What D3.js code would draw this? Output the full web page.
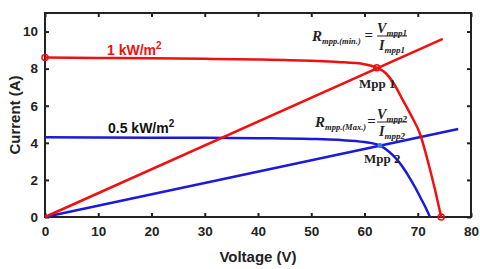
<!DOCTYPE html>
<html>
<head>
<meta charset="utf-8">
<script src="https://cdn.jsdelivr.net/npm/d3@7"></script>
<style>
  body { margin: 0; background: #fff; }
  svg { display: block; }
</style>
</head>
<body>
<div id="chart"></div>
<script>
// I-V curve at 1 kW/m2
const redV = [0, 10, 20, 30, 40, 50, 55, 60, 62.3, 64, 65.5, 67.2, 68.8, 70.4, 72, 73.3, 74.4];
const redI = [8.6, 8.58, 8.56, 8.53, 8.49, 8.42, 8.36, 8.24, 8.05, 7.75, 7.2, 6.3, 5.45, 4.5, 2.9, 1.4, 0];
// I-V curve at 0.5 kW/m2
const blueV = [0, 10, 20, 30, 40, 50, 55, 60, 62.9, 64.5, 66.1, 67.4, 68.5, 69.6, 70.6, 71.5, 72.3];
const blueI = [4.3, 4.29, 4.28, 4.27, 4.25, 4.21, 4.16, 4.04, 3.85, 3.55, 3.1, 2.6, 2.1, 1.55, 1.0, 0.5, 0];
// load lines (R = V/I) from origin
const redLoadV = [0, 74.7];
const redLoadI = [0, 9.6];
const blueLoadV = [0, 77.6];
const blueLoadI = [0, 4.75];
// marked points
const redMarksV = [0, 62.3, 74.4];
const redMarksI = [8.6, 8.05, 0];
const mpp2 = [62.9, 3.85];

const xTicks = [0, 10, 20, 30, 40, 50, 60, 70, 80];
const yTicks = [0, 2, 4, 6, 8, 10];

const W = 480, H = 269;
const m = { left: 45, top: 13, right: 9, bottom: 52 };

const svg = d3.select('#chart').append('svg')
    .attr('width', W).attr('height', H);

const x = d3.scaleLinear().domain([0, 80]).range([m.left, W - m.right]);
const y = d3.scaleLinear().domain([0, 11]).range([H - m.bottom, m.top]);

const sans = '"Liberation Sans", Arial, sans-serif';
const serif = '"Liberation Serif", "Times New Roman", serif';

// axes with inward ticks
const gx = svg.append('g').attr('transform', `translate(0,${y(0)})`)
    .call(d3.axisBottom(x).tickValues(xTicks).tickSize(-4).tickPadding(9));
const gxt = svg.append('g').attr('transform', `translate(0,${y(11)})`)
    .call(d3.axisTop(x).tickValues(xTicks).tickSize(-4).tickFormat(''));
const gy = svg.append('g').attr('transform', `translate(${x(0)},0)`)
    .call(d3.axisLeft(y).tickValues(yTicks).tickSize(-4).tickPadding(7));
const gyr = svg.append('g').attr('transform', `translate(${x(80)},0)`)
    .call(d3.axisRight(y).tickValues(yTicks).tickSize(-4).tickFormat(''));

[gx, gxt, gy, gyr].forEach(g => {
    g.select('.domain').remove();
    g.selectAll('line').attr('stroke', '#222').attr('stroke-width', 2);
    g.selectAll('text').attr('font-family', sans).attr('font-weight', 'bold')
        .attr('font-size', 13.5).attr('fill', '#222');
});

svg.append('rect')
    .attr('x', x(0)).attr('y', y(11))
    .attr('width', x(80) - x(0)).attr('height', y(0) - y(11))
    .attr('fill', 'none').attr('stroke', '#222').attr('stroke-width', 2);

const line = d3.line().x(d => x(d[0])).y(d => y(d[1]));
const smooth = d3.line().x(d => x(d[0])).y(d => y(d[1])).curve(d3.curveMonotoneX);
const zip = (a, b) => a.map((v, i) => [v, b[i]]);

const red = '#f01010', blue = '#1a1ad8';

svg.append('path').datum(zip(blueLoadV, blueLoadI)).attr('d', line)
    .attr('fill', 'none').attr('stroke', blue).attr('stroke-width', 2.5);
svg.append('path').datum(zip(blueV, blueI)).attr('d', smooth)
    .attr('fill', 'none').attr('stroke', blue).attr('stroke-width', 2.5);
svg.append('path').datum(zip(redLoadV, redLoadI)).attr('d', line)
    .attr('fill', 'none').attr('stroke', red).attr('stroke-width', 2.5);
svg.append('path').datum(zip(redV, redI)).attr('d', smooth)
    .attr('fill', 'none').attr('stroke', red).attr('stroke-width', 2.5);

svg.selectAll('.rmark').data(zip(redMarksV, redMarksI)).enter().append('circle')
    .attr('cx', d => x(d[0])).attr('cy', d => y(d[1])).attr('r', 3)
    .attr('fill', 'none').attr('stroke', red).attr('stroke-width', 1.5);
svg.append('circle').attr('cx', x(mpp2[0])).attr('cy', y(mpp2[1])).attr('r', 2.5)
    .attr('fill', '#3a78d8');

// axis titles
svg.append('text').attr('x', x(40)).attr('y', 262).attr('text-anchor', 'middle')
    .attr('font-family', sans).attr('font-weight', 'bold').attr('font-size', 15)
    .attr('fill', '#222').text('Voltage (V)');
svg.append('text').attr('transform', `translate(20,${y(5.5)}) rotate(-90)`)
    .attr('text-anchor', 'middle')
    .attr('font-family', sans).attr('font-weight', 'bold').attr('font-size', 15)
    .attr('fill', '#222').text('Current (A)');

// irradiance labels
function irrLabel(tx, ty, txt, color) {
    const t = svg.append('text').attr('x', tx).attr('y', ty)
        .attr('font-family', sans).attr('font-weight', 'bold').attr('font-size', 14)
        .attr('fill', color);
    t.append('tspan').text(txt);
    t.append('tspan').attr('dy', -6).attr('font-size', 10).text('2');
}
irrLabel(107, 55, '1 kW/m', red);
irrLabel(108, 133, '0.5 kW/m', '#111');

// Mpp labels
svg.append('text').attr('x', 359).attr('y', 88)
    .attr('font-family', serif).attr('font-weight', 'bold').attr('font-size', 13)
    .attr('fill', '#222').text('Mpp 1');
svg.append('text').attr('x', 364).attr('y', 163)
    .attr('font-family', serif).attr('font-weight', 'bold').attr('font-size', 13)
    .attr('fill', '#222').text('Mpp 2');

// formulas: R_sub = V/I, fraction centred at cx
function formula(fx, fy, sub, n, cx) {
    const g = svg.append('g').attr('font-family', serif).attr('font-weight', 'bold')
        .attr('font-style', 'italic').attr('fill', '#222');
    const r = g.append('text').attr('x', fx).attr('y', fy).attr('font-size', 15);
    r.append('tspan').text('R');
    r.append('tspan').attr('dy', 3).attr('font-size', 8.5).text(sub);
    const rEnd = fx + r.node().getComputedTextLength();
    g.append('text').attr('x', (rEnd + cx - 15) / 2).attr('y', fy - 1).attr('text-anchor', 'middle')
        .attr('font-size', 15).attr('font-style', 'normal').text('=');
    const num = g.append('text').attr('x', cx).attr('y', fy - 8).attr('text-anchor', 'middle')
        .attr('font-size', 14);
    num.append('tspan').text('V');
    num.append('tspan').attr('dy', 3).attr('font-size', 9).text('mpp' + n);
    g.append('line').attr('x1', cx - 15).attr('x2', cx + 15)
        .attr('y1', fy - 5).attr('y2', fy - 5).attr('stroke', '#222').attr('stroke-width', 1);
    const den = g.append('text').attr('x', cx).attr('y', fy + 9).attr('text-anchor', 'middle')
        .attr('font-size', 14);
    den.append('tspan').text('I');
    den.append('tspan').attr('dy', 3).attr('font-size', 9).text('mpp' + n);
}
formula(312, 41, 'mpp.(min.)', 1, 392);
formula(315, 127, 'mpp.(Max.)', 2, 392);
</script>
</body>
</html>
